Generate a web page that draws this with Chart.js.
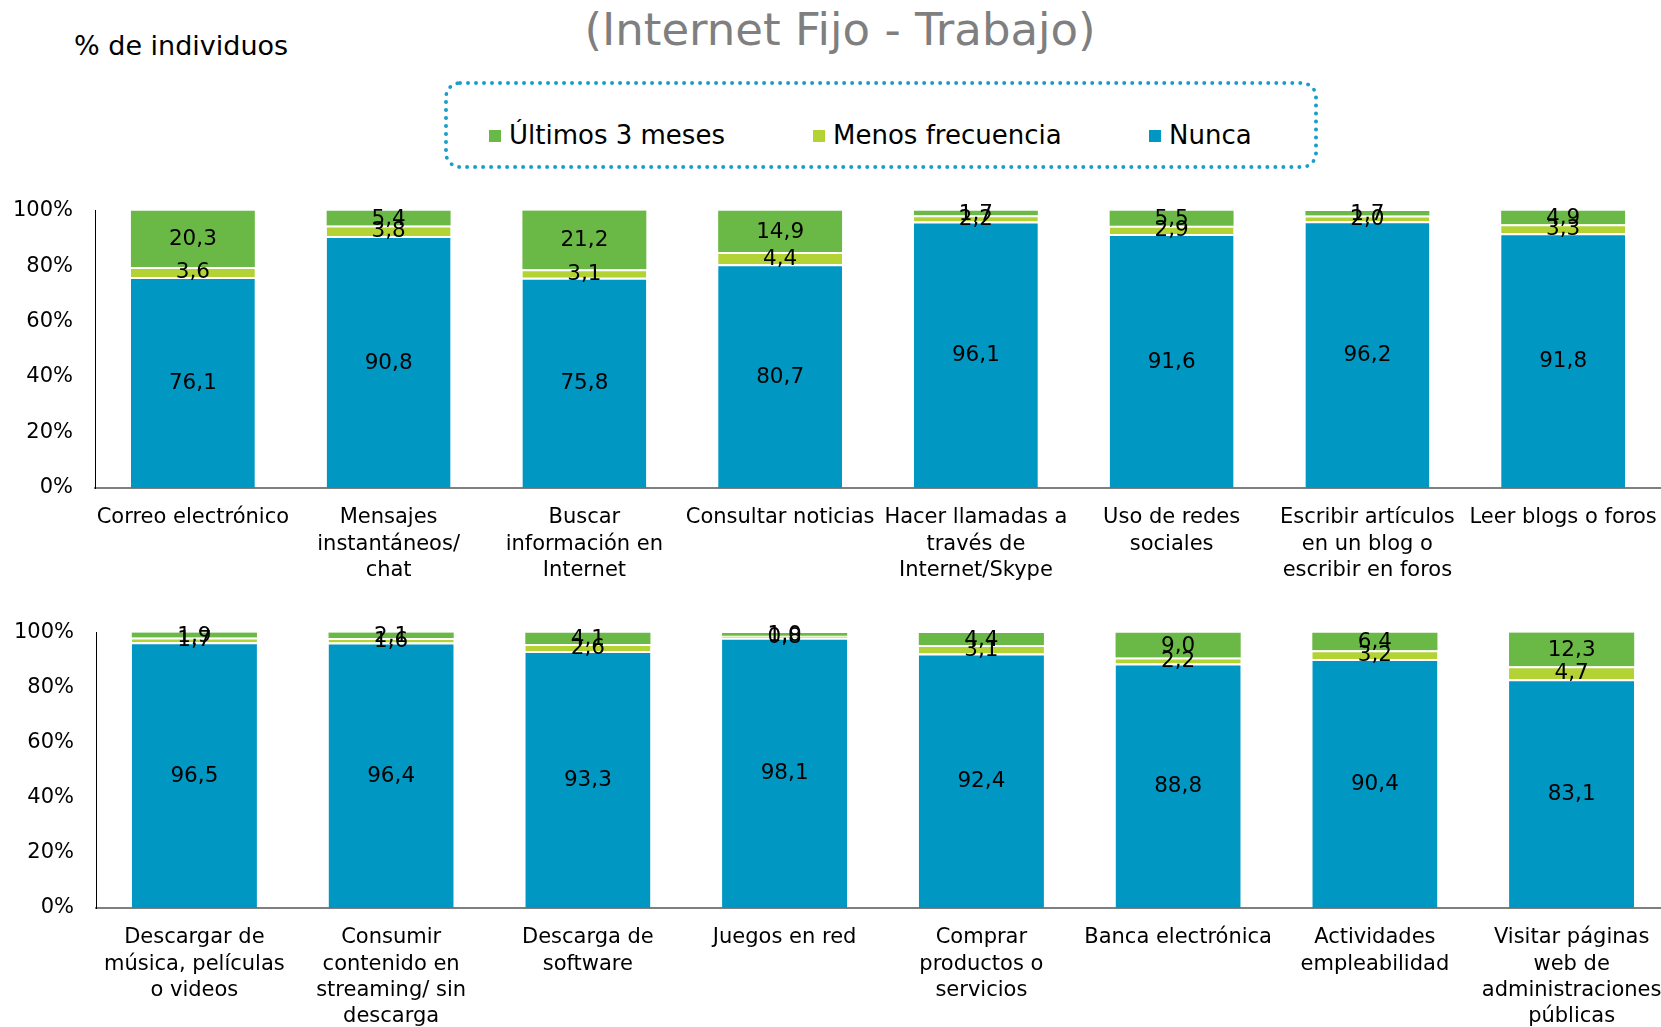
<!DOCTYPE html>
<html lang="es">
<head>
<meta charset="utf-8">
<title>Internet Fijo - Trabajo</title>
<script src="https://cdn.jsdelivr.net/npm/chart.js@4.4.1/dist/chart.umd.min.js"></script>
<style>
  html, body { margin: 0; padding: 0; background: #fff; overflow: hidden; }
  body { width: 1661px; height: 1027px; position: relative; font-family: "DejaVu Sans", Verdana, sans-serif; }
  .title { position: absolute; left: 0; width: 1680px; top: 4px; text-align: center; font-size: 45px; color: #7f7f7f; line-height: 52px; }
  .ylabel { position: absolute; left: 74px; top: 28px; font-size: 27px; color: #000; line-height: 36px; }
  .legend { position: absolute; left: 444px; top: 81px; width: 874px; height: 88px; border: 4px dotted #1a9ec8; border-radius: 16px; box-sizing: border-box; }
  .item { position: absolute; top: 118px; font-size: 26px; line-height: 34px; color: #000; white-space: nowrap; }
  .item i { display: inline-block; width: 12px; height: 12px; margin-right: 8px; vertical-align: 2px; }
  .wrap { position: absolute; left: 0; line-height: 0; }
  canvas { display: block; }
</style>
</head>
<body>
<div class="title">(Internet Fijo - Trabajo)</div>
<div class="ylabel">% de individuos</div>
<div class="legend"></div>
<div id="legendItems"></div>
<div class="wrap" style="top:176px"><canvas id="top" width="1661" height="426"></canvas></div>
<div class="wrap" style="top:598px"><canvas id="bottom" width="1670" height="429"></canvas></div>
<script>
// Series names and colours
const seriesNames = ["Últimos 3 meses", "Menos frecuencia", "Nunca"];
const seriesColors = ["#6ab845", "#b3d234", "#0097c3"];

// Upper panel: categories and values (% of individuals)
const topCategories = [
  "Correo electrónico",
  ["Mensajes", "instantáneos/", "chat"],
  ["Buscar", "información en", "Internet"],
  "Consultar noticias",
  ["Hacer llamadas a", "través de", "Internet/Skype"],
  ["Uso de redes", "sociales"],
  ["Escribir artículos", "en un blog o", "escribir en foros"],
  "Leer blogs o foros"
];
const topNunca    = [76.1, 90.8, 75.8, 80.7, 96.1, 91.6, 96.2, 91.8];
const topMenos    = [3.6, 3.8, 3.1, 4.4, 2.2, 2.9, 2.0, 3.3];
const topUltimos  = [20.3, 5.4, 21.2, 14.9, 1.7, 5.5, 1.7, 4.9];

// Lower panel
const bottomCategories = [
  ["Descargar de", "música, películas", "o videos"],
  ["Consumir", "contenido en", "streaming/ sin", "descarga"],
  ["Descarga de", "software"],
  "Juegos en red",
  ["Comprar", "productos o", "servicios"],
  "Banca electrónica",
  ["Actividades", "empleabilidad"],
  ["Visitar páginas", "web de", "administraciones", "públicas"]
];
const bottomNunca   = [96.5, 96.4, 93.3, 98.1, 92.4, 88.8, 90.4, 83.1];
const bottomMenos   = [1.7, 1.6, 2.6, 0.8, 3.1, 2.2, 3.2, 4.7];
const bottomUltimos = [1.9, 2.1, 4.1, 1.0, 4.4, 9.0, 6.4, 12.3];

// Y axis ticks
const yTicks = [0, 20, 40, 60, 80, 100];

// HTML legend
const legendPos = [489, 813, 1149];
const legendHost = document.getElementById('legendItems');
seriesNames.forEach((name, i) => {
  const d = document.createElement('div');
  d.className = 'item';
  d.style.left = legendPos[i] + 'px';
  d.innerHTML = '<i style="background:' + seriesColors[i] + '"></i>' + name;
  legendHost.appendChild(d);
});

const FONT = "'DejaVu Sans', Verdana, sans-serif";

// Writes each segment's value in its middle
const segmentLabels = {
  id: 'segmentLabels',
  afterDatasetsDraw(chart) {
    const ctx = chart.ctx;
    ctx.save();
    ctx.font = '21.5px ' + FONT;
    ctx.fillStyle = '#000';
    ctx.textAlign = 'center';
    ctx.textBaseline = 'middle';
    chart.data.datasets.forEach((ds, di) => {
      const meta = chart.getDatasetMeta(di);
      meta.data.forEach((el, idx) => {
        const v = ds.data[idx];
        const p = el.getProps(['x', 'y', 'base'], true);
        ctx.fillText(v.toFixed(1).replace('.', ','), p.x, (p.y + p.base) / 2 + 1);
      });
    });
    ctx.restore();
  }
};

function makeChart(id, categories, nunca, menos, ultimos, opts) {
  const ds = (label, data, color, border) => ({
    label, data,
    backgroundColor: color,
    borderColor: '#ffffff',
    borderWidth: border ? { top: 2, left: 0, right: 0, bottom: 0 } : 0,
    borderSkipped: false,
    categoryPercentage: 1,
    barPercentage: opts.barPct
  });
  return new Chart(document.getElementById(id), {
    type: 'bar',
    data: {
      labels: categories,
      datasets: [
        ds(seriesNames[2], nunca, seriesColors[2], true),
        ds(seriesNames[1], menos, seriesColors[1], true),
        ds(seriesNames[0], ultimos, seriesColors[0], false)
      ]
    },
    options: {
      responsive: false,
      animation: false,
      devicePixelRatio: 1,
      layout: { padding: 0 },
      plugins: { legend: { display: false }, tooltip: { enabled: false } },
      scales: {
        x: {
          stacked: true,
          grid: { display: false, drawTicks: false },
          border: { display: true, color: '#7f7f7f', width: 2 },
          ticks: {
            autoSkip: false, maxRotation: 0, minRotation: 0, padding: 17,
            color: '#000', font: { family: FONT, size: 21, lineHeight: 1.24 }
          },
          afterFit: s => { s.height = opts.xHeight; s.paddingLeft = 0; s.paddingRight = 0; }
        },
        y: {
          stacked: true,
          min: 0, max: 100,
          grid: { display: false, drawTicks: false },
          border: { display: true, color: '#000', width: 1 },
          afterBuildTicks: s => { s.ticks = yTicks.map(v => ({ value: v })); },
          ticks: {
            padding: 22,
            color: '#000', font: { family: FONT, size: 21 },
            callback: v => v + '%'
          },
          afterFit: s => { s.width = opts.yWidth; }
        }
      }
    },
    plugins: [segmentLabels]
  });
}

makeChart('top', topCategories, topNunca, topMenos, topUltimos,
  { xHeight: 114, yWidth: 95, barPct: 0.633 });
makeChart('bottom', bottomCategories, bottomNunca, bottomMenos, bottomUltimos,
  { xHeight: 119, yWidth: 96, barPct: 0.636 });
</script>
</body>
</html>
